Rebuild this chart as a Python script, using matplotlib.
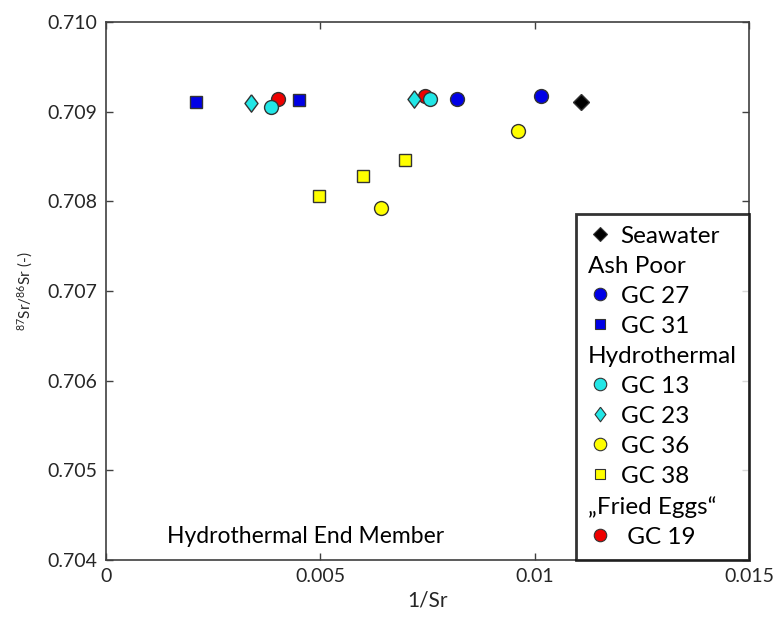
import matplotlib.pyplot as plt
from matplotlib.lines import Line2D

plt.rcParams['font.family'] = ['Lato', 'DejaVu Sans']
plt.rcParams['mathtext.default'] = 'regular'

# 1/Sr and 87Sr/86Sr per sample
seawater_x = [0.01108]
seawater_y = [0.70911]
gc27_x = [0.00820, 0.01014]
gc27_y = [0.70914, 0.70917]
gc31_x = [0.00209, 0.00451]
gc31_y = [0.70911, 0.70913]
gc13_x = [0.00385, 0.00755]
gc13_y = [0.70905, 0.70914]
gc23_x = [0.00339, 0.00719]
gc23_y = [0.70910, 0.70914]
gc36_x = [0.00641, 0.00960]
gc36_y = [0.70792, 0.70878]
gc38_x = [0.00498, 0.00600, 0.00698]
gc38_y = [0.70806, 0.70828, 0.70846]
gc19_x = [0.00401, 0.00744]
gc19_y = [0.70914, 0.70917]

xticks = [0, 0.005, 0.01, 0.015]
xticklabels = ['0', '0.005', '0.01', '0.015']
yticks = [0.704, 0.705, 0.706, 0.707, 0.708, 0.709, 0.710]

edge = '#333333'
blue = '#0000e6'
cyan = '#22e6e6'
yellow = '#ffff00'
red = '#ee0000'
# wider diamond than the built-in thin one
diamond = [(0, 1), (0.75, 0), (0, -1), (-0.75, 0), (0, 1)]

fig = plt.figure(figsize=(7.73, 6.17), dpi=100)
ax = fig.add_axes([0.137, 0.0924, 0.832, 0.872])

def pts(x, y, marker, color, ms):
    ax.plot(x, y, linestyle='none', marker=marker, markersize=ms,
            markerfacecolor=color, markeredgecolor=edge, markeredgewidth=1)

pts(seawater_x, seawater_y, 'D', 'black', 8)
pts(gc27_x, gc27_y, 'o', blue, 10)
pts(gc31_x, gc31_y, 's', blue, 8.5)
pts(gc19_x, gc19_y, 'o', red, 10)
pts(gc13_x, gc13_y, 'o', cyan, 10)
pts(gc23_x, gc23_y, diamond, cyan, 12.5)
pts(gc36_x, gc36_y, 'o', yellow, 10)
pts(gc38_x, gc38_y, 's', yellow, 8.5)

ax.set_xlim(0, 0.015)
ax.set_ylim(0.704, 0.710)
ax.set_xticks(xticks)
ax.set_xticklabels(xticklabels)
ax.set_yticks(yticks)
ax.set_yticklabels([f'{v:.3f}' for v in yticks])
ax.tick_params(direction='in', top=True, right=True, length=5, width=1,
               color='#404040', labelcolor='#262626', labelsize=14, pad=6)
for s in ax.spines.values():
    s.set_color('#404040')
    s.set_linewidth(1.2)

ax.set_xlabel('1/Sr', fontsize=15, color='#262626', labelpad=4)
ax.set_ylabel('$^{87}$Sr/$^{86}$Sr (-)', fontsize=11, color='#262626', labelpad=9)

ax.text(0.00465, 0.70426, 'Hydrothermal End Member', fontsize=16.5,
        ha='center', va='center', color='black')

def mk(marker, color, ms):
    return Line2D([], [], linestyle='none', marker=marker, markersize=ms,
                  markerfacecolor=color, markeredgecolor=edge, markeredgewidth=0.8)

blank = Line2D([], [], linestyle='none')
handles = [mk('D', 'black', 7), blank, mk('o', blue, 9), mk('s', blue, 7),
           blank, mk('o', cyan, 9), mk(diamond, cyan, 10.5), mk('o', yellow, 9),
           mk('s', yellow, 7), blank, mk('o', red, 9)]
labels = ['Seawater', 'Ash Poor', 'GC 27', 'GC 31', 'Hydrothermal', 'GC 13',
          'GC 23', 'GC 36', 'GC 38', '\u201eFried Eggs\u201c', ' GC 19']
headers = {1, 4, 9}

leg = ax.legend(handles, labels, loc='lower right', borderaxespad=0,
                fontsize=17.5, frameon=True, fancybox=False, handlelength=1.0,
                handletextpad=0.35, labelspacing=0.37, borderpad=0.5)
leg.get_frame().set_edgecolor('black')
leg.get_frame().set_linewidth(2)

# pull the group headings left, over the marker column
column = leg._legend_handle_box.get_children()[0]
for i, item in enumerate(column.get_children()):
    if i in headers:
        item.get_children()[0].width = 0
        item.sep = 0

fig.savefig('out.png', dpi=100)
